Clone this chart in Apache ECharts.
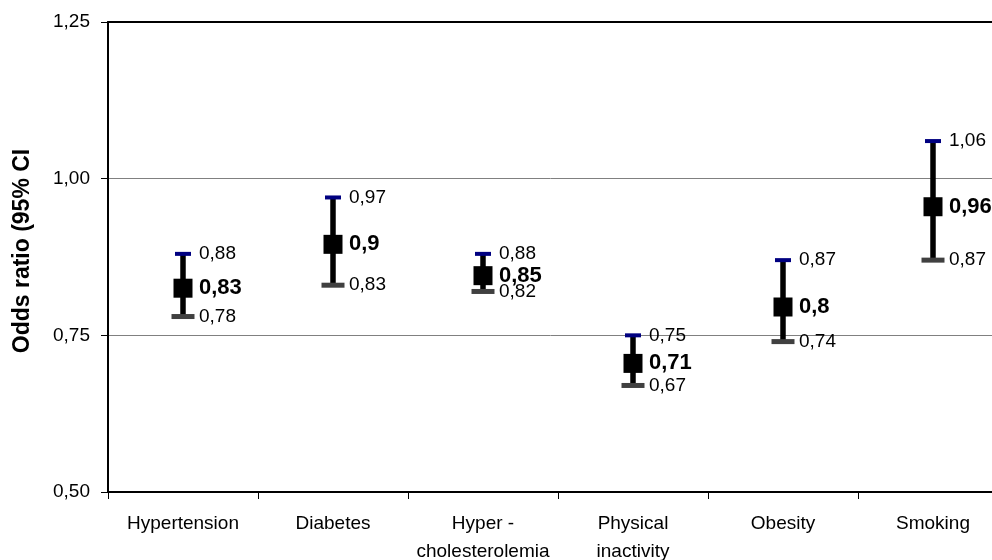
<!DOCTYPE html>
<html>
<head>
<meta charset="utf-8">
<script src="https://cdn.jsdelivr.net/npm/echarts@6/dist/echarts.min.js"></script>
<style>
html,body{margin:0;padding:0;background:#fff;overflow:hidden;width:992px;height:560px;}
#chart{width:992px;height:560px;overflow:hidden;position:relative;}
</style>
</head>
<body>
<div id="chart"></div>
<script>
var categories = ['Hypertension', 'Diabetes', 'Hyper -\ncholesterolemia', 'Physical\ninactivity', 'Obesity', 'Smoking'];
var oddsRatio = [0.83, 0.9, 0.85, 0.71, 0.8, 0.96];
var ciLower = [0.78, 0.83, 0.82, 0.67, 0.74, 0.87];
var ciUpper = [0.88, 0.97, 0.88, 0.75, 0.87, 1.06];
var yTicks = [0.5, 0.75, 1.0, 1.25];
var yTitle = 'Odds ratio (95% CI';

function fmt(v) { return String(v).replace('.', ','); }

var seriesData = categories.map(function (c, i) {
  return [i, ciLower[i], oddsRatio[i], ciUpper[i]];
});

var FONT = 'Liberation Sans, Arial, sans-serif';
var MEAN_SHIFT = 3; // marker drawn slightly below its point, as in the original rendering

var chart = echarts.init(document.getElementById('chart'), null, {renderer: 'canvas', width: 992, height: 560});
chart.setOption({
  animation: false,
  backgroundColor: '#fff',
  grid: {left: 108, top: 22, width: 900, height: 470, containLabel: false, outerBoundsMode: 'none'},
  graphic: [{
    type: 'text',
    x: 23, y: 251,
    rotation: Math.PI / 2,
    style: {text: yTitle, fill: '#000', font: 'bold 23px ' + FONT, textAlign: 'center', textVerticalAlign: 'middle'}
  }],
  xAxis: [{
    type: 'category',
    data: categories,
    position: 'bottom',
    axisLine: {lineStyle: {color: '#000', width: 2}},
    axisTick: {show: true, length: 7, lineStyle: {color: '#000', width: 1}, alignWithLabel: false},
    axisLabel: {color: '#000', fontSize: 19, fontFamily: FONT, margin: 18, lineHeight: 28, interval: 0},
    splitLine: {show: false}
  }, {
    type: 'category',
    data: categories,
    position: 'top',
    axisLine: {lineStyle: {color: '#000', width: 2}},
    axisTick: {show: false},
    axisLabel: {show: false},
    splitLine: {show: false}
  }],
  yAxis: {
    type: 'value',
    min: yTicks[0],
    max: yTicks[yTicks.length - 1],
    interval: yTicks[1] - yTicks[0],
    axisLine: {show: true, lineStyle: {color: '#000', width: 2}},
    axisTick: {show: true, length: 7, lineStyle: {color: '#000', width: 1}},
    axisLabel: {color: '#000', fontSize: 19, fontFamily: FONT, margin: 18,
      formatter: function (v) { return v.toFixed(2).replace('.', ','); }},
    splitLine: {show: true, lineStyle: {color: '#808080', width: 1}}
  },
  series: [{
    type: 'custom',
    xAxisIndex: 0,
    clip: false,
    data: seriesData,
    renderItem: function (params, api) {
      var idx = api.value(0);
      var lo = api.coord([idx, api.value(1)]);
      var mid = api.coord([idx, api.value(2)]);
      var hi = api.coord([idx, api.value(3)]);
      var cx = lo[0];
      var lx = cx + 16;
      var my = mid[1] + MEAN_SHIFT;
      return {
        type: 'group',
        children: [
          {type: 'line', shape: {x1: cx, y1: hi[1], x2: cx, y2: lo[1]},
            style: {stroke: '#000', lineWidth: 5.5}},
          {type: 'rect', shape: {x: cx - 8, y: hi[1] - 2, width: 16, height: 4},
            style: {fill: '#000080'}},
          {type: 'rect', shape: {x: cx - 11.5, y: lo[1] - 2.5, width: 23, height: 5},
            style: {fill: '#404040'}},
          {type: 'rect', shape: {x: cx - 9.5, y: my - 9.5, width: 19, height: 19},
            style: {fill: '#000'}},
          {type: 'text', x: lx, y: hi[1],
            style: {text: fmt(api.value(3)), fill: '#000', font: '19px ' + FONT, textAlign: 'left', textVerticalAlign: 'middle'}},
          {type: 'text', x: lx, y: my,
            style: {text: fmt(api.value(2)), fill: '#000', font: 'bold 22px ' + FONT, textAlign: 'left', textVerticalAlign: 'middle'}},
          {type: 'text', x: lx, y: lo[1],
            style: {text: fmt(api.value(1)), fill: '#000', font: '19px ' + FONT, textAlign: 'left', textVerticalAlign: 'middle'}}
        ]
      };
    }
  }]
});
</script>
</body>
</html>
